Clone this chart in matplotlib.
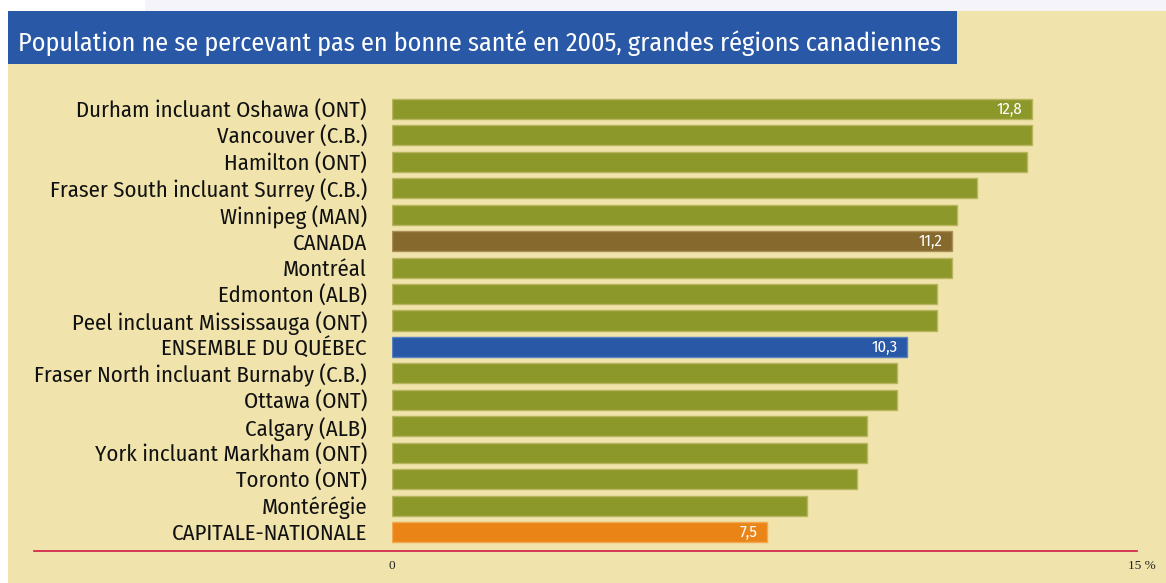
import matplotlib
matplotlib.use("Agg")
import matplotlib.pyplot as plt
from matplotlib.patches import Rectangle
from matplotlib.lines import Line2D

categories = [
    "Durham incluant Oshawa (ONT)",
    "Vancouver (C.B.)",
    "Hamilton (ONT)",
    "Fraser South incluant Surrey (C.B.)",
    "Winnipeg (MAN)",
    "CANADA",
    "Montréal",
    "Edmonton (ALB)",
    "Peel incluant Mississauga (ONT)",
    "ENSEMBLE DU QUÉBEC",
    "Fraser North incluant Burnaby (C.B.)",
    "Ottawa (ONT)",
    "Calgary (ALB)",
    "York incluant Markham (ONT)",
    "Toronto (ONT)",
    "Montérégie",
    "CAPITALE-NATIONALE",
]
values = [12.8, 12.8, 12.7, 11.7, 11.3, 11.2, 11.2, 10.9, 10.9, 10.3,
          10.1, 10.1, 9.5, 9.5, 9.3, 8.3, 7.5]
shown_labels = {0: "12,8", 5: "11,2", 9: "10,3", 16: "7,5"}
x_ticks = [0, 15]
x_tick_labels = ["0", "15 %"]
title = "Population ne se percevant pas en bonne santé en 2005, grandes régions canadiennes"

COND = ["Fira Sans Condensed", "Sofia Sans Semi Condensed", "DejaVu Sans"]
SERIF = ["Liberation Serif", "DejaVu Serif"]

OLIVE = "#8C992A"
BROWN = "#86692C"
BLUE = "#2858A6"
ORANGE = "#EB8417"
BEIGE = "#F0E4AC"
special = {"CANADA": BROWN, "ENSEMBLE DU QUÉBEC": BLUE, "CAPITALE-NATIONALE": ORANGE}
edge_of = {OLIVE: "#B9B45E", BROWN: "#A98E55", BLUE: "#5B82C0", ORANGE: "#F2A850"}
colors = [special.get(c, OLIVE) for c in categories]
edges = [edge_of[c] for c in colors]

W, H = 1166, 583
fig = plt.figure(figsize=(W / 100, H / 100), dpi=100)
fig.patch.set_facecolor("white")

# top strip and beige panel
fig.add_artist(Rectangle((145 / W, 1 - 11 / H), 1 - 145 / W, 11 / H, transform=fig.transFigure,
                         facecolor="#F4F4FA", edgecolor="none", zorder=0))
fig.add_artist(Rectangle((8 / W, 0), 1 - 8 / W, 1 - 11 / H, transform=fig.transFigure,
                         facecolor=BEIGE, edgecolor="none", zorder=0))
# title bar
fig.add_artist(Rectangle((8 / W, 1 - 64 / H), (957 - 8) / W, (64 - 11) / H, transform=fig.transFigure,
                         facecolor=BLUE, edgecolor="none", zorder=1))
fig.text(18 / W, 1 - 43 / H, title, color="white", fontsize=18.8,
         family=COND, va="center", ha="left", zorder=2)

ax_left, ax_right = 392 / W, 1142 / W
ax_top, ax_bot = 1 - 95.8 / H, 1 - 545.2 / H
ax = fig.add_axes([ax_left, ax_bot, ax_right - ax_left, ax_top - ax_bot])
ax.set_facecolor("none")
ypos = list(range(len(categories)))
ax.barh(ypos, values, height=0.76, color=colors, edgecolor=edges, linewidth=1.0, zorder=3)
ax.set_xlim(0, 15)
ax.set_ylim(len(categories) - 0.5, -0.5)
for s in ax.spines.values():
    s.set_visible(False)
ax.set_yticks(ypos)
ax.set_yticklabels(categories, fontsize=16.4, family=COND, color="#111111")
ax.tick_params(axis="y", length=0, pad=18)
ax.set_xticks(x_ticks)
ax.set_xticklabels(x_tick_labels, fontsize=9.5, family=SERIF, color="#222222")
ax.tick_params(axis="x", length=0, pad=11)

for i, lab in shown_labels.items():
    ax.annotate(lab, (values[i], i), xytext=(-7, 0), textcoords="offset points",
                ha="right", va="center", color="white", fontsize=12,
                family=COND, zorder=4)

fig.add_artist(Line2D([34 / W, 1137 / W], [1 - 551 / H, 1 - 551 / H], transform=fig.transFigure,
                      color="#D01A44", linewidth=1.2, zorder=2))

fig.savefig("out.png", dpi=100, facecolor=fig.get_facecolor())
